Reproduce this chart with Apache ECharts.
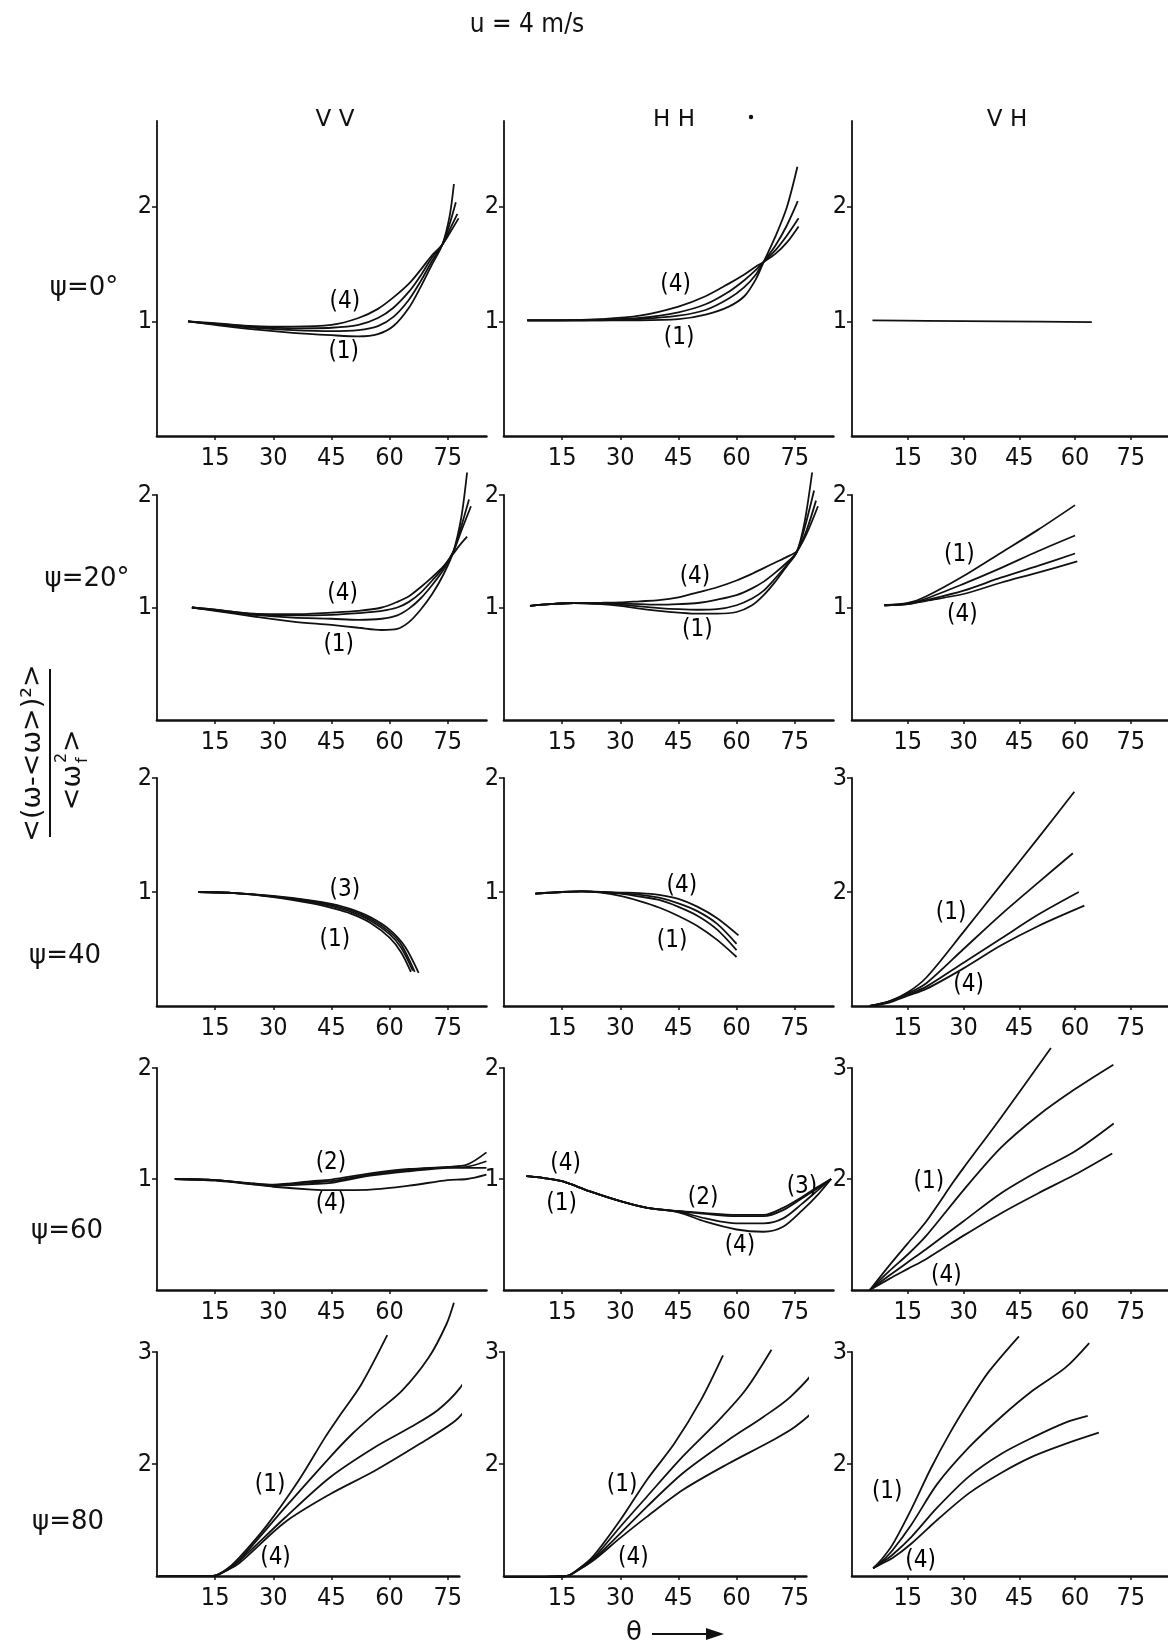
<!DOCTYPE html>
<html lang="en">
<head>
<meta charset="utf-8">
<title>u = 4 m/s</title>
<script src="https://cdn.jsdelivr.net/npm/echarts@6.0.0/dist/echarts.min.js"></script>
<style>
  html, body { margin: 0; padding: 0; background: #fff; }
  #chart { width: 1168px; height: 1642px; }
</style>
</head>
<body>
<div id="chart"></div>
<script>
// every panel: curves (1)..(4), points are [theta in degrees, value]
var VV_PSI0 = [
  [[8,1.0],[15,0.97],[25,0.93],[35,0.9],[45,0.88],[52,0.87],[57,0.89],[61,0.96],[65,1.12],[68,1.3],[71,1.5],[73.6,1.67],[75.5,1.92],[76.6,2.2]],
  [[8,1.0],[15,0.975],[25,0.945],[35,0.925],[45,0.915],[52,0.925],[57,0.96],[61,1.04],[65,1.19],[68,1.35],[71,1.53],[73.6,1.67],[75.5,1.85],[77.1,2.04]],
  [[8,1.0],[15,0.98],[25,0.955],[35,0.94],[45,0.945],[52,0.97],[57,1.03],[61,1.12],[65,1.26],[68,1.4],[71,1.56],[73.6,1.67],[75.5,1.8],[77.5,1.94]],
  [[8,1.0],[15,0.985],[25,0.96],[35,0.955],[45,0.97],[52,1.03],[57,1.11],[61,1.21],[65,1.33],[68,1.45],[71,1.58],[73.6,1.67],[75.5,1.77],[77.8,1.9]]
];
var HH_PSI0 = [
  [[6,1.01],[15,1.01],[25,1.01],[35,1.01],[45,1.02],[52,1.06],[58,1.13],[62,1.22],[65,1.37],[67,1.52],[70,1.74],[73,2.0],[75.7,2.35]],
  [[6,1.01],[15,1.01],[25,1.01],[35,1.02],[45,1.05],[52,1.1],[58,1.2],[62,1.3],[65,1.41],[67,1.52],[70,1.66],[73,1.84],[75.8,2.05]],
  [[6,1.01],[15,1.01],[25,1.015],[35,1.03],[45,1.08],[52,1.15],[58,1.26],[62,1.36],[65,1.45],[67,1.52],[70,1.62],[73,1.75],[76,1.9]],
  [[6,1.01],[15,1.01],[25,1.02],[35,1.05],[45,1.13],[52,1.22],[58,1.33],[62,1.41],[65,1.48],[67,1.52],[70,1.59],[73,1.69],[76,1.83]]
];
var VH_PSI0 = [
  [[5.5,1.01],[20,1.005],[40,1.0],[64.5,0.995]]
];

var VV_PSI20 = [
  [[9,1.0],[15,0.97],[25,0.92],[35,0.875],[45,0.845],[52,0.82],[58,0.8],[62,0.81],[65,0.87],[68,0.98],[71,1.12],[74,1.3],[76.5,1.5],[78.5,1.8],[80,2.2]],
  [[9,1.0],[15,0.975],[25,0.935],[35,0.91],[45,0.9],[52,0.89],[58,0.9],[62,0.93],[65,0.99],[68,1.08],[71,1.2],[74,1.34],[76.5,1.5],[78.5,1.72],[80.5,1.96]],
  [[9,1.0],[15,0.98],[25,0.94],[35,0.93],[45,0.935],[52,0.95],[58,0.97],[62,1.0],[65,1.05],[68,1.13],[71,1.24],[74,1.36],[76.5,1.5],[78.5,1.68],[81,1.9]],
  [[9,1.0],[15,0.98],[25,0.945],[35,0.94],[45,0.955],[52,0.97],[58,1.0],[62,1.05],[65,1.1],[68,1.18],[71,1.27],[74,1.37],[76.5,1.48],[78,1.55],[80,1.63]]
];
var HH_PSI20 = [
  [[6.7,1.015],[12,1.03],[18,1.04],[25,1.03],[30,1.015],[35,0.99],[40,0.97],[45,0.955],[50,0.945],[55,0.945],[60,0.96],[64,1.02],[67,1.11],[70,1.23],[73,1.37],[75.5,1.49],[77.5,1.75],[79.5,2.2]],
  [[6.7,1.015],[12,1.03],[18,1.04],[25,1.035],[30,1.025],[35,1.01],[40,0.995],[45,0.985],[50,0.98],[55,0.985],[60,1.02],[64,1.08],[67,1.15],[70,1.26],[73,1.38],[75.5,1.49],[77.5,1.7],[80,2.04]],
  [[6.7,1.015],[12,1.03],[18,1.04],[25,1.038],[30,1.035],[35,1.03],[40,1.025],[45,1.03],[50,1.04],[55,1.07],[60,1.11],[64,1.17],[67,1.23],[70,1.31],[73,1.4],[75.5,1.49],[78,1.68],[80.5,1.95]],
  [[6.7,1.015],[12,1.03],[18,1.04],[25,1.042],[30,1.045],[35,1.055],[40,1.065],[45,1.09],[50,1.135],[55,1.18],[60,1.24],[64,1.3],[67,1.35],[70,1.4],[73,1.45],[75.5,1.5],[78,1.65],[81,1.9]]
];
var VH_PSI20 = [
  [[8.7,1.02],[15,1.04],[20,1.1],[30,1.28],[40,1.485],[50,1.69],[60,1.91]],
  [[8.7,1.02],[15,1.035],[20,1.08],[30,1.21],[40,1.35],[50,1.5],[60,1.64]],
  [[8.7,1.02],[15,1.03],[20,1.065],[30,1.15],[40,1.265],[50,1.37],[60,1.48]],
  [[8.7,1.02],[15,1.03],[20,1.06],[30,1.12],[40,1.22],[50,1.31],[60.6,1.41]]
];

var VV_PSI40 = [
  [[10.7,1.0],[20,0.99],[30,0.955],[40,0.9],[45,0.86],[50,0.81],[55,0.73],[60,0.6],[63,0.47],[65.5,0.3]],
  [[10.7,1.0],[20,0.99],[30,0.96],[40,0.91],[45,0.875],[50,0.825],[55,0.75],[60,0.63],[63,0.51],[66,0.31]],
  [[10.7,1.0],[20,0.99],[30,0.962],[40,0.92],[45,0.885],[50,0.84],[55,0.765],[60,0.65],[63,0.54],[66.5,0.3]],
  [[10.7,1.0],[20,0.99],[30,0.965],[40,0.925],[45,0.895],[50,0.85],[55,0.78],[60,0.67],[64,0.52],[67.5,0.29]]
];
var HH_PSI40 = [
  [[8.1,0.985],[15,1.0],[20,1.005],[25,0.995],[30,0.965],[35,0.92],[40,0.864],[45,0.79],[50,0.7],[55,0.58],[60,0.43]],
  [[8.1,0.985],[15,1.0],[20,1.005],[25,1.0],[30,0.985],[35,0.96],[40,0.93],[45,0.87],[50,0.79],[55,0.67],[60,0.49]],
  [[8.1,0.985],[15,1.0],[20,1.005],[25,1.0],[30,0.99],[35,0.975],[40,0.95],[45,0.9],[50,0.83],[55,0.72],[60,0.545]],
  [[8.1,0.985],[15,1.0],[20,1.005],[25,1.0],[30,0.995],[35,0.99],[40,0.975],[45,0.94],[50,0.87],[55,0.77],[60.5,0.62]]
];
var VH_PSI40 = [
  [[4.8,1.0],[10,1.04],[15,1.12],[20,1.25],[30,1.65],[40,2.06],[50,2.47],[59.8,2.88]],
  [[4.8,1.0],[10,1.04],[15,1.11],[20,1.2],[30,1.5],[40,1.8],[50,2.08],[59.4,2.34]],
  [[4.8,1.0],[10,1.035],[15,1.1],[20,1.17],[30,1.38],[40,1.59],[50,1.8],[61,2.0]],
  [[4.8,1.0],[10,1.03],[15,1.09],[20,1.15],[30,1.33],[40,1.53],[50,1.7],[62.5,1.88]]
];

var VV_PSI60 = [
  [[4.6,1.0],[15,0.99],[25,0.955],[30,0.94],[40,0.955],[45,0.965],[55,1.03],[65,1.07],[75,1.1],[80,1.11],[85,1.16]],
  [[4.6,1.0],[15,0.99],[25,0.96],[30,0.95],[40,0.98],[45,0.995],[55,1.05],[65,1.09],[75,1.11],[80,1.13],[85,1.24]],
  [[4.6,1.0],[15,0.99],[25,0.958],[30,0.945],[40,0.97],[45,0.98],[55,1.04],[65,1.08],[75,1.105],[80,1.1],[85,1.1]],
  [[4.6,1.0],[15,0.985],[25,0.95],[30,0.93],[40,0.905],[45,0.9],[55,0.905],[65,0.94],[75,0.99],[80,1.0],[85,1.04]]
];
var HH_PSI60 = [
  [[5.8,1.025],[10,1.01],[15,0.98],[22,0.89],[30,0.8],[37,0.74],[45,0.71],[52,0.685],[60,0.665],[67,0.665],[72,0.72],[77,0.83],[81,0.92],[84.4,1.0]],
  [[5.8,1.025],[10,1.01],[15,0.98],[22,0.89],[30,0.8],[37,0.74],[45,0.712],[52,0.692],[60,0.676],[67,0.676],[72,0.74],[77,0.84],[81,0.93],[84.4,1.0]],
  [[5.8,1.025],[10,1.01],[15,0.98],[22,0.89],[30,0.8],[37,0.74],[45,0.705],[52,0.645],[60,0.6],[67,0.6],[72,0.645],[77,0.78],[81,0.9],[84.4,1.0]],
  [[5.8,1.025],[10,1.01],[15,0.98],[22,0.89],[30,0.8],[37,0.74],[45,0.7],[52,0.615],[60,0.545],[67,0.525],[72,0.57],[77,0.72],[81,0.86],[84.4,1.0]]
];
var VH_PSI60 = [
  [[4.8,1.0],[10,1.22],[15,1.42],[20,1.62],[27.2,1.97],[30,2.1],[40,2.55],[53.5,3.18]],
  [[4.8,1.0],[10,1.17],[15,1.32],[20,1.49],[30,1.9],[40,2.28],[50,2.57],[60,2.81],[70.3,3.03]],
  [[4.8,1.0],[10,1.13],[15,1.25],[20,1.37],[30,1.62],[40,1.87],[50,2.07],[60,2.25],[70.4,2.5]],
  [[4.8,1.0],[10,1.1],[15,1.19],[20,1.28],[30,1.49],[40,1.69],[50,1.87],[60,2.04],[70,2.23]]
];

var VV_PSI80 = [
  [[0.5,1.0],[10,1.0],[14.4,1.0],[18,1.06],[21.4,1.17],[28.3,1.45],[36.5,1.85],[43.4,2.24],[46.9,2.42],[52.7,2.71],[59.4,3.15]],
  [[0.5,1.0],[10,1.0],[14.4,1.0],[18,1.06],[21.4,1.15],[33,1.61],[44.6,2.06],[50.4,2.27],[56.2,2.45],[63.1,2.65],[70.1,2.95],[74.7,3.25],[76.6,3.44]],
  [[0.5,1.0],[10,1.0],[14.4,1.0],[18,1.05],[21.4,1.14],[33,1.52],[44.6,1.88],[56.2,2.15],[65.5,2.33],[72.4,2.48],[78.2,2.68],[81.1,2.86]],
  [[0.5,1.0],[10,1.0],[14.4,1.0],[18,1.05],[21.4,1.12],[33,1.48],[44.6,1.73],[56.2,1.94],[67.8,2.18],[77.1,2.39],[81.5,2.57]]
];
var HH_PSI80 = [
  [[0,0.99],[8,0.99],[16.2,1.0],[19.5,1.07],[23.1,1.18],[30,1.5],[36.9,1.86],[43.9,2.18],[50.8,2.57],[56.5,2.97]],
  [[0,0.99],[8,0.99],[16.2,1.0],[19.5,1.07],[23.1,1.16],[30,1.44],[36.9,1.71],[46.2,2.07],[55.4,2.39],[62.3,2.66],[69,3.02]],
  [[0,0.99],[8,0.99],[16.2,1.0],[19.5,1.06],[23.1,1.15],[30,1.38],[36.9,1.62],[46.2,1.92],[57.7,2.21],[66.9,2.42],[73.9,2.6],[80.8,2.87],[85.5,3.3]],
  [[0,0.99],[8,0.99],[16.2,1.0],[19.5,1.06],[23.1,1.14],[30,1.34],[36.9,1.53],[46.2,1.77],[57.7,2.0],[69.2,2.21],[75,2.33],[80.8,2.51],[85.4,2.84]]
];
var VH_PSI80 = [
  [[5.7,1.07],[8,1.15],[10.9,1.28],[16,1.6],[21.2,1.96],[26.4,2.28],[31.5,2.56],[36.7,2.82],[44.9,3.14]],
  [[5.7,1.07],[8,1.13],[10.9,1.23],[16,1.46],[22.9,1.82],[31.5,2.15],[40.1,2.42],[48.8,2.66],[57.4,2.86],[63.8,3.08]],
  [[5.7,1.07],[8,1.12],[10.9,1.19],[16,1.35],[22.9,1.61],[31.5,1.89],[40.1,2.09],[48.8,2.24],[57.4,2.37],[63.4,2.43]],
  [[5.7,1.07],[8,1.11],[10.9,1.16],[16,1.29],[22.9,1.5],[31.5,1.74],[40.1,1.92],[48.8,2.07],[57.4,2.18],[66.4,2.28]]
];

// curve numbers written on the panels: [theta, value, text]
var NOTES = [
  [[48.6,1.17,'(4)'],[48.3,0.73,'(1)']],
  [[44.4,1.32,'(4)'],[45.3,0.85,'(1)']],
  [],
  [[48,1.12,'(4)'],[47,0.66,'(1)']],
  [[49.4,1.27,'(4)'],[50,0.8,'(1)']],
  [[29,1.46,'(1)'],[29.8,0.93,'(4)']],
  [[48.6,1.015,'(3)'],[46,0.58,'(1)']],
  [[46,1.05,'(4)'],[43.5,0.57,'(1)']],
  [[26.8,1.81,'(1)'],[31.5,1.18,'(4)']],
  [[45,1.145,'(2)'],[45,0.77,'(4)']],
  [[16,1.13,'(4)'],[15,0.77,'(1)'],[51.5,0.83,'(2)'],[61,0.39,'(4)'],[77,0.93,'(3)']],
  [[20.8,1.97,'(1)'],[25.5,1.12,'(4)']],
  [[29.3,1.81,'(1)'],[30.7,1.16,'(4)']],
  [[30.6,1.81,'(1)'],[33.5,1.16,'(4)']],
  [[9.6,1.75,'(1)'],[18.6,1.13,'(4)']]
];

var COLUMNS = ['VV', 'HH', 'VH'];
var PSI_LABELS = ['\u03c8=0\u00b0', '\u03c8=20\u00b0', '\u03c8=40', '\u03c8=60', '\u03c8=80'];
var THETA_TICKS = [15, 30, 45, 60, 75];

// rows x columns
var CURVES = [
  VV_PSI0, HH_PSI0, VH_PSI0,
  VV_PSI20, HH_PSI20, VH_PSI20,
  VV_PSI40, HH_PSI40, VH_PSI40,
  VV_PSI60, HH_PSI60, VH_PSI60,
  VV_PSI80, HH_PSI80, VH_PSI80
];
var Y_RANGE = [
  [0, 2.75], [0, 2.75], [0, 2.75],
  [0, 2], [0, 2], [0, 2],
  [0, 2], [0, 2], [1, 3],
  [0, 2], [0, 2], [1, 3],
  [1, 3], [1, 3], [1, 3]
];
var X_MAX = [
  85, 85, 85,
  85, 85, 85,
  85, 85, 85,
  85, 85, 85,
  78, 78, 85
];
var X_TICKS = [
  THETA_TICKS, THETA_TICKS, THETA_TICKS,
  THETA_TICKS, THETA_TICKS, THETA_TICKS,
  THETA_TICKS, THETA_TICKS, THETA_TICKS,
  [15, 30, 45, 60], THETA_TICKS, THETA_TICKS,
  THETA_TICKS, THETA_TICKS, THETA_TICKS
];

// page layout (pixels)
var COL_LEFT = [157, 504, 852];
var ROW_TOP = [121, 495, 778, 1068, 1352];
var ROW_BASE = [436, 720, 1006, 1290, 1576];
var PX_PER_DEG = 3.876;

var INK = '#111111';
var NARROW = "'Liberation Sans Narrow', 'DejaVu Sans Condensed', 'DejaVu Sans', sans-serif";
var PLAIN = "'DejaVu Sans', sans-serif";

var chart = echarts.init(document.getElementById('chart'), null, { renderer: 'canvas' });

var grids = [], xAxes = [], yAxes = [], series = [];

for (var i = 0; i < CURVES.length; i++) {
  var r = Math.floor(i / 3), c = i % 3;
  var yr = Y_RANGE[i];
  var yTicks = [];
  for (var v = yr[0] + 1; v <= yr[1]; v++) yTicks.push(v);

  grids.push({
    left: COL_LEFT[c],
    top: ROW_TOP[r],
    width: X_MAX[i] * PX_PER_DEG,
    height: ROW_BASE[r] - ROW_TOP[r],
    containLabel: false
  });

  xAxes.push({
    type: 'value', gridIndex: i, min: 0, max: X_MAX[i], interval: 15,
    splitLine: { show: false },
    axisLine: { show: true, onZero: false, lineStyle: { color: INK, width: 2.6 } },
    axisTick: { show: true, length: 4, customValues: X_TICKS[i], lineStyle: { color: INK, width: 1.5 } },
    axisLabel: { show: true, customValues: X_TICKS[i], margin: 10, color: INK, fontSize: 25, fontFamily: NARROW }
  });

  yAxes.push({
    type: 'value', gridIndex: i, min: yr[0], max: yr[1], interval: 1,
    splitLine: { show: false },
    axisLine: { show: true, onZero: false, lineStyle: { color: INK, width: 1.8 } },
    axisTick: { show: true, length: 5, customValues: yTicks, lineStyle: { color: INK, width: 1.5 } },
    axisLabel: { show: true, customValues: yTicks, margin: 5, color: INK, fontSize: 25, fontFamily: NARROW }
  });

  CURVES[i].forEach(function (curve) {
    series.push({
      type: 'line', xAxisIndex: i, yAxisIndex: i, data: curve,
      showSymbol: false, smooth: 0.3, clip: false, silent: true,
      lineStyle: { color: INK, width: 1.8 }
    });
  });

  series.push({
    type: 'scatter', xAxisIndex: i, yAxisIndex: i, data: NOTES[i],
    symbol: 'circle', symbolSize: 1, silent: true, clip: false,
    itemStyle: { color: 'rgba(255,255,255,0)' },
    label: {
      show: true, position: [0, 0], align: 'center', verticalAlign: 'middle',
      color: '#000', opacity: 1, textBorderWidth: 0, fontSize: 24, fontFamily: NARROW,
      formatter: function (p) { return p.data[2]; }
    }
  });
}

// titles and row / axis labels
var texts = [
  { type: 'text', x: 527, y: 25, style: { text: 'u = 4 m/s', font: '26px ' + NARROW, fill: INK, align: 'center', verticalAlign: 'middle' } },
  { type: 'circle', shape: { cx: 751, cy: 117, r: 2.2 }, style: { fill: INK } },
  { type: 'text', x: 634, y: 1633, style: { text: '\u03b8', font: '26px ' + PLAIN, fill: INK, align: 'center', verticalAlign: 'middle' } },
  { type: 'line', shape: { x1: 652, y1: 1634, x2: 712, y2: 1634 }, style: { stroke: INK, lineWidth: 2.2 } },
  { type: 'polygon', shape: { points: [[706, 1628], [724, 1634], [706, 1640]] }, style: { fill: INK } }
];
var HEAD_X = [335, 674, 1007];
COLUMNS.forEach(function (name, k) {
  texts.push({ type: 'text', x: HEAD_X[k], y: 120,
    style: { text: name.split('').join(' '), font: '23px ' + PLAIN, fill: INK, align: 'center', verticalAlign: 'middle' } });
});
var PSI_POS = [[84, 288], [87, 579], [65, 956], [67, 1231], [68, 1522]];
PSI_LABELS.forEach(function (t, k) {
  texts.push({ type: 'text', x: PSI_POS[k][0], y: PSI_POS[k][1],
    style: { text: t, font: '26px ' + PLAIN, fill: INK, align: 'center', verticalAlign: 'middle' } });
});

// rotated ordinate label  <(w-<w>)^2> / <w_f^2>
texts.push({
  type: 'group', x: 50, y: 753, rotation: Math.PI / 2,
  children: [
    { type: 'text', x: 0, y: -4, style: { text: '<(\u03c9-<\u03c9>)\u00b2>', font: '27px ' + PLAIN, fill: INK, align: 'center', verticalAlign: 'bottom' } },
    { type: 'line', shape: { x1: -84, y1: 0, x2: 84, y2: 0 }, style: { stroke: INK, lineWidth: 2 } },
    { type: 'text', x: -12, y: 23, style: { text: '<\u03c9', font: '27px ' + PLAIN, fill: INK, align: 'right', verticalAlign: 'middle' } },
    { type: 'text', x: -10, y: 12, style: { text: '2', font: '16px ' + PLAIN, fill: INK, align: 'left', verticalAlign: 'middle' } },
    { type: 'text', x: -10, y: 33, style: { text: 'f', font: '16px ' + PLAIN, fill: INK, align: 'left', verticalAlign: 'middle' } },
    { type: 'text', x: 1, y: 23, style: { text: '>', font: '27px ' + PLAIN, fill: INK, align: 'left', verticalAlign: 'middle' } }
  ]
});

chart.setOption({
  backgroundColor: '#ffffff',
  animation: false,
  grid: grids,
  xAxis: xAxes,
  yAxis: yAxes,
  series: series,
  graphic: texts
});
</script>
</body>
</html>
